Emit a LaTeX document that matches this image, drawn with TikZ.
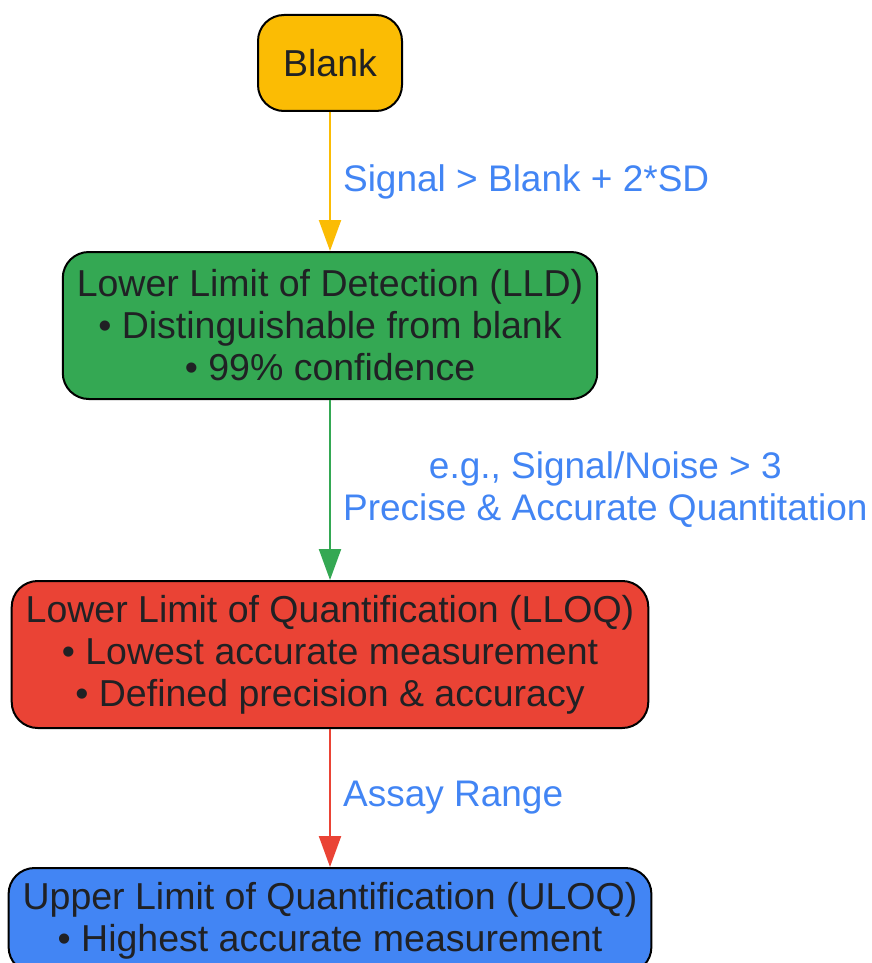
\documentclass[tikz,border=0pt]{standalone}
\usepackage{fontspec}
\setmainfont{Liberation Sans}
\usepackage{tikz}
\usetikzlibrary{arrows.meta,positioning}
\definecolor{LimYellow}{HTML}{FBBC04}
\definecolor{LimGreen}{HTML}{34A853}
\definecolor{LimRed}{HTML}{EA4335}
\definecolor{LimBlue}{HTML}{4285F4}
\definecolor{LimInk}{HTML}{202124}
\tikzset{
  limfont/.style={font=\fontsize{37.5}{42}\selectfont},
  limbox/.style={limfont, draw=black, line width=2pt, rounded corners=26pt, text=LimInk, align=center, inner xsep=14pt},
  limlabel/.style={font=\fontsize{37}{42}\selectfont, text=LimBlue, align=center, inner xsep=12pt},
  limarrow/.style={-{Triangle[length=31pt, width=22pt]}, line width=2.2pt}
}
\begin{document}
\begin{tikzpicture}[x=1pt, y=-1pt]
\useasboundingbox (0,0) rectangle (872,963);
\node[limbox, fill=LimYellow, minimum width=144, minimum height=96] (blank) at (330,63) {Blank};
\node[limbox, fill=LimGreen, minimum height=147, below=139pt of blank] (lld) {Lower Limit of Detection (LLD)\\ • Distinguishable from blank\\ • 99\% confidence};
\node[limbox, fill=LimRed, minimum height=147, below=180pt of lld] (lloq) {Lower Limit of Quantification (LLOQ)\\ • Lowest accurate measurement\\ • Defined precision \& accuracy};
\node[limbox, fill=LimBlue, minimum height=105, below=138pt of lloq] (uloq) {Upper Limit of Quantification (ULOQ)\\ • Highest accurate measurement};
\draw[limarrow, draw=LimYellow] (blank) -- node[right, limlabel] {Signal > Blank + 2*SD} (lld);
\draw[limarrow, draw=LimGreen] (lld) -- node[right, limlabel] {e.g., Signal/Noise > 3\\ Precise \& Accurate Quantitation} (lloq);
\draw[limarrow, draw=LimRed] (lloq) -- node[right, limlabel] {Assay Range} (uloq);
\end{tikzpicture}
\end{document}
